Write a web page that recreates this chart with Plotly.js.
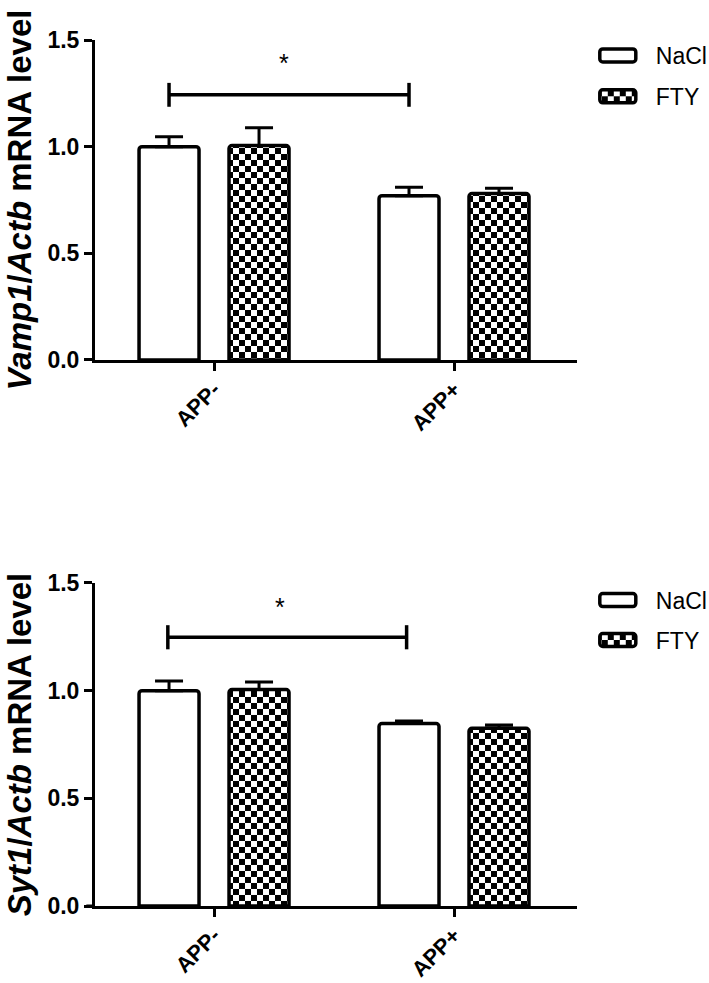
<!DOCTYPE html>
<html>
<head>
<meta charset="utf-8">
<script src="https://cdn.plot.ly/plotly-3.0.1.min.js"></script>
<style>html,body{margin:0;padding:0;background:#fff;}#chart{width:709px;height:983px;}</style>
</head>
<body>
<div id="chart"></div>
<script>
// ---- data ----
const categories = ['APP-', 'APP+'];
const seriesNames = ['NaCl', 'FTY'];
const yTickVals = [0, 0.5, 1.0, 1.5];

// Vamp1/Actb (top panel)
const vampNaCl = [1.00, 0.770];
const vampNaClErr = [0.047, 0.040];
const vampFTY = [1.005, 0.780];
const vampFTYErr = [0.084, 0.025];

// Syt1/Actb (bottom panel)
const sytNaCl = [1.00, 0.847];
const sytNaClErr = [0.045, 0.012];
const sytFTY = [1.005, 0.825];
const sytFTYErr = [0.035, 0.015];

// significance
const sigLabel = '*';
const sigTopY = 1.243;
const sigBotY = 1.248;

const FONT = 'Arial, "Liberation Sans", sans-serif';

function barTrace(name, y, err, xa, ya, legend, patterned) {
  const t = {
    type: 'bar', name: name, x: categories, y: y,
    xaxis: xa, yaxis: ya, legend: legend, legendgroup: name + legend,
    showlegend: true,
    marker: {color: '#ffffff', line: {color: '#000', width: 3.5}, cornerradius: 3},
    error_y: {type: 'data', array: err, arrayminus: [0, 0], symmetric: false,
              color: '#000', thickness: 3, width: 14},
    hoverinfo: 'none'
  };
  if (patterned) {
    t.marker.pattern = {shape: 'x', fgcolor: '#000', bgcolor: '#fff', size: 12, solidity: 0.5, fillmode: 'overlay'};
  }
  return t;
}

const data = [
  barTrace(seriesNames[0], vampNaCl, vampNaClErr, 'x', 'y', 'legend', false),
  barTrace(seriesNames[1], vampFTY, vampFTYErr, 'x', 'y', 'legend', true),
  barTrace(seriesNames[0], sytNaCl, sytNaClErr, 'x2', 'y2', 'legend2', false),
  barTrace(seriesNames[1], sytFTY, sytFTYErr, 'x2', 'y2', 'legend2', true)
];

const xRange = [-0.496, 1.5125];
function xAxis(anchor) {
  return {
    type: 'category', anchor: anchor, domain: [0, 1], range: xRange,
    showline: true, linewidth: 3, linecolor: '#000',
    ticks: 'outside', ticklen: 8, tickwidth: 3, tickcolor: '#000',
    tickangle: -45, showgrid: false, zeroline: false, automargin: false,
    ticklabelstandoff: -3,
    tickfont: {family: FONT, size: 22, color: '#000', weight: 'bold'}
  };
}
function yAxis(anchor, domain, titleHtml) {
  return {
    anchor: anchor, domain: domain, range: [0, 1.5],
    tickvals: yTickVals, tickformat: '.1f',
    showline: true, linewidth: 3, linecolor: '#000',
    ticks: 'outside', ticklen: 8, tickwidth: 3, tickcolor: '#000',
    showgrid: false, zeroline: false, automargin: false,
    tickfont: {family: FONT, size: 23, color: '#000', weight: 'bold'},
    title: {text: titleHtml, standoff: 6,
            font: {family: FONT, size: 33, color: '#000', weight: 'bold'}}
  };
}

const off = 0.1875; // NaCl bar centre offset in category units
function bracket(xref, yref, y, x0, x1) {
  const h = 0.056;
  const line = {color: '#000', width: 3.5};
  return [
    {type: 'line', xref: xref, yref: yref, x0: x0, x1: x1, y0: y, y1: y, line: line},
    {type: 'line', xref: xref, yref: yref, x0: x0, x1: x0, y0: y - h, y1: y + h, line: line},
    {type: 'line', xref: xref, yref: yref, x0: x1, x1: x1, y0: y - h, y1: y + h, line: line}
  ];
}
// short stub of the x axis line to the left of the y axis
function axisStub(yref) {
  return {type: 'line', xref: 'paper', yref: yref, x0: -0.018, x1: 0, y0: 0, y1: 0,
          line: {color: '#000', width: 3}};
}

const legendBase = {
  xref: 'paper', yref: 'paper', xanchor: 'left', yanchor: 'top',
  bgcolor: 'rgba(0,0,0,0)', borderwidth: 0, itemwidth: 50,
  tracegroupgap: 8, font: {family: FONT, size: 23, color: '#000'},
  itemclick: false, itemdoubleclick: false
};

const layout = {
  width: 709, height: 983,
  margin: {l: 95, r: 132, t: 40, b: 77, autoexpand: false},
  paper_bgcolor: '#fff', plot_bgcolor: '#fff',
  barmode: 'group', bargap: 0.25, bargroupgap: 1 / 3,
  showlegend: true,
  xaxis: xAxis('y'),
  yaxis: yAxis('x', [0.6305, 1], '<i>Vamp1</i>/<i>Actb</i> mRNA level'),
  xaxis2: xAxis('y2'),
  yaxis2: yAxis('x2', [0, 0.373], '<i>Syt1</i>/<i>Actb</i> mRNA level'),
  legend: Object.assign({}, legendBase, {x: 1.039, y: 1.007}),
  legend2: Object.assign({}, legendBase, {x: 1.039, y: 0.378, tracegroupgap: 7}),
  shapes: [].concat(
    bracket('x', 'y', sigTopY, -off, 1 - off),
    bracket('x2', 'y2', sigBotY, -off - 0.005, 1 - off - 0.01),
    [axisStub('y'), axisStub('y2')]
  ),
  annotations: [
    {xref: 'x', yref: 'y', x: 0.29, y: 1.39, text: sigLabel, showarrow: false,
     font: {family: FONT, size: 25, color: '#000'}},
    {xref: 'x2', yref: 'y2', x: 0.275, y: 1.39, text: sigLabel, showarrow: false,
     font: {family: FONT, size: 25, color: '#000'}}
  ]
};

const NS = 'http://www.w3.org/2000/svg';
function touchUp(gd) {
  // checkerboard fill for the FTY pattern
  gd.querySelectorAll('pattern').forEach(function (p) {
    if (p.getAttribute('data-checker')) return;
    p.setAttribute('data-checker', '1');
    const s = 6;
    p.setAttribute('width', 2 * s);
    p.setAttribute('height', 2 * s);
    p.removeAttribute('patternTransform');
    while (p.firstChild) p.removeChild(p.firstChild);
    const bg = document.createElementNS(NS, 'rect');
    bg.setAttribute('x', 0); bg.setAttribute('y', 0);
    bg.setAttribute('width', 2 * s); bg.setAttribute('height', 2 * s);
    bg.setAttribute('fill', '#fff');
    p.appendChild(bg);
    [[0, 0], [s, s]].forEach(function (c) {
      const r = document.createElementNS(NS, 'rect');
      r.setAttribute('x', c[0]); r.setAttribute('y', c[1]);
      r.setAttribute('width', s); r.setAttribute('height', s);
      r.setAttribute('fill', '#000');
      p.appendChild(r);
    });
  });
  // wider legend swatches (36 x 13, slightly rounded)
  gd.querySelectorAll('.legendpoints path').forEach(function (el) {
    el.setAttribute('d', 'M-23,-6.5H7A3,3 0 0 1 10,-3.5V3.5A3,3 0 0 1 7,6.5H-23A3,3 0 0 1 -26,3.5V-3.5A3,3 0 0 1 -23,-6.5Z');
  });
}

const gd = document.getElementById('chart');
Plotly.newPlot(gd, data, layout, {staticPlot: true, displayModeBar: false}).then(function () {
  touchUp(gd);
  setTimeout(function () { touchUp(gd); }, 50);
});
</script>
</body>
</html>
